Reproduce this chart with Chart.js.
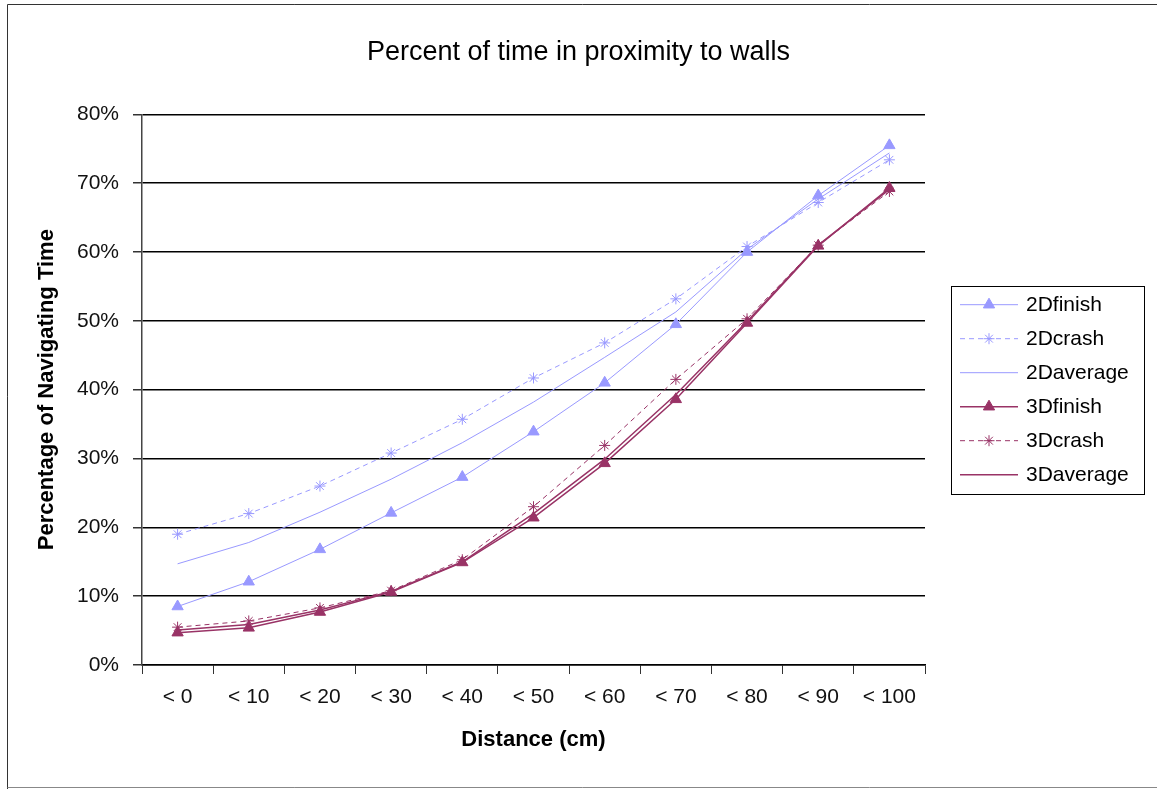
<!DOCTYPE html>
<html>
<head>
<meta charset="utf-8">
<script src="https://cdn.jsdelivr.net/npm/chart.js@4/dist/chart.umd.min.js"></script>
<style>
  html, body { margin: 0; padding: 0; background: #fff; }
  canvas { display: block; }
</style>
</head>
<body>
<canvas id="chart" width="1157" height="789"></canvas>
<script>
// categories on the x axis
const distances = ['< 0', '< 10', '< 20', '< 30', '< 40', '< 50', '< 60', '< 70', '< 80', '< 90', '< 100'];

// series values, percent of navigating time
const finish2D = [8.5, 12.1, 16.8, 22.1, 27.3, 33.9, 41.0, 49.5, 60.0, 68.2, 75.5];
const crash2D = [19.0, 22.0, 26.0, 30.8, 35.7, 41.7, 46.8, 53.2, 60.8, 67.2, 73.4];
const average2D = [14.7, 17.8, 22.2, 27.0, 32.3, 38.2, 44.7, 51.3, 60.4, 67.7, 74.4];
const finish3D = [4.7, 5.4, 7.7, 10.6, 14.9, 21.4, 29.3, 38.6, 49.7, 60.9, 69.3];
const crash3D = [5.5, 6.4, 8.3, 10.8, 15.3, 23.0, 31.9, 41.5, 50.3, 61.0, 68.8];
const average3D = [5.1, 5.9, 8.0, 10.7, 15.0, 22.0, 29.9, 39.3, 49.9, 61.0, 69.1];

const seriesNames = ['2Dfinish', '2Dcrash', '2Daverage', '3Dfinish', '3Dcrash', '3Daverage'];

const COLOR_2D = '#9999FF';
const COLOR_3D = '#993366';
const FONT = '"Liberation Sans", Arial, sans-serif';

//line + marker settings per series kind
const finishStyle = (c) => ({ borderColor: c, backgroundColor: c, pointStyle: 'triangle', pointRadius: 6.5, pointBorderWidth: 1 });
const crashStyle = (c) => ({ borderColor: c, backgroundColor: c, borderDash: [5, 4], pointStyle: 'star', pointRadius: 5.5, pointBorderWidth: 1 });
const averageStyle = (c) => ({ borderColor: c, backgroundColor: c, pointRadius: 0 });

// outer frame of the picture
const framePlugin = {
  id: 'frame',
  beforeDraw(chart) {
    const ctx = chart.ctx;
    ctx.save();
    ctx.fillStyle = '#fff';
    ctx.fillRect(0, 0, chart.width, chart.height);
    ctx.lineWidth = 1;
    ctx.strokeStyle = '#333';
    ctx.beginPath();
    ctx.moveTo(7.5, chart.height);
    ctx.lineTo(7.5, 4.5);
    ctx.lineTo(chart.width, 4.5);
    ctx.stroke();
    ctx.strokeStyle = '#888';
    ctx.beginPath();
    ctx.moveTo(7.5, chart.height - 1.5);
    ctx.lineTo(chart.width, chart.height - 1.5);
    ctx.stroke();
    ctx.restore();
  }
};

// excel-like legend: line sample with marker in the middle, boxed
const legendPlugin = {
  id: 'boxLegend',
  afterDraw(chart) {
    const ctx = chart.ctx;
    const area = chart.chartArea;
    const sets = chart.data.datasets;
    const rowH = 34;
    const boxW = 193;
    const boxH = rowH * sets.length + 4;
    const left = area.right + 26;
    const top = (area.top + area.bottom) / 2 - boxH / 2;
    ctx.save();
    ctx.fillStyle = '#fff';
    ctx.fillRect(left, top, boxW, boxH);
    ctx.strokeStyle = '#000';
    ctx.lineWidth = 1;
    ctx.strokeRect(Math.round(left) + 0.5, Math.round(top) + 0.5, boxW, boxH);
    ctx.font = '21px ' + FONT;
    ctx.textBaseline = 'middle';
    ctx.textAlign = 'left';
    sets.forEach((ds, i) => {
      const y = top + 2 + rowH * i + rowH / 2;
      ctx.strokeStyle = ds.borderColor;
      ctx.lineWidth = ds.borderWidth || 1;
      ctx.setLineDash(ds.borderDash || []);
      ctx.beginPath();
      ctx.moveTo(left + 9, y);
      ctx.lineTo(left + 67, y);
      ctx.stroke();
      ctx.setLineDash([]);
      if (ds.pointRadius > 0) {
        ctx.fillStyle = ds.backgroundColor;
        ctx.lineWidth = ds.pointBorderWidth;
        Chart.helpers.drawPoint(ctx, { pointStyle: ds.pointStyle, radius: ds.pointRadius, rotation: 0, borderWidth: ds.pointBorderWidth }, left + 38, y);
      }
      ctx.fillStyle = '#000';
      ctx.fillText(ds.label, left + 75, y + 1);
    });
    ctx.restore();
  }
};

const data = {
  labels: distances,
  datasets: [
    { label: seriesNames[0], data: finish2D, borderWidth: 1, ...finishStyle(COLOR_2D) },
    { label: seriesNames[1], data: crash2D, borderWidth: 1, ...crashStyle(COLOR_2D) },
    { label: seriesNames[2], data: average2D, borderWidth: 1, ...averageStyle(COLOR_2D) },
    { label: seriesNames[3], data: finish3D, borderWidth: 1.5, ...finishStyle(COLOR_3D) },
    { label: seriesNames[4], data: crash3D, borderWidth: 1, ...crashStyle(COLOR_3D) },
    { label: seriesNames[5], data: average3D, borderWidth: 1.5, ...averageStyle(COLOR_3D) },
  ],
};

const config = {
  type: 'line',
  data: data,
  plugins: [framePlugin, legendPlugin],
  options: {
    responsive: false,
    animation: false,
    layout: { padding: 0 },
    elements: { line: { tension: 0, fill: false } },
    plugins: {
      legend: { display: false },
      tooltip: { enabled: false },
      title: {
        display: true,
        text: 'Percent of time in proximity to walls',
        color: '#000',
        font: { family: FONT, size: 27, weight: 'normal' },
        padding: { top: 36, bottom: 46 },
      },
    },
    scales: {
      x: {
        offset: true,
        grid: { offset: true, drawOnChartArea: false, drawTicks: true, tickLength: 9, tickColor: '#333', lineWidth: 1 },
        border: { display: true, color: '#000', width: 1.5 },
        ticks: { color: '#111', padding: 11, maxRotation: 0, autoSkip: false, font: { family: FONT, size: 21 } },
        title: {
          display: true,
          text: 'Distance (cm)',
          color: '#000',
          font: { family: FONT, size: 22, weight: 'bold' },
          padding: { top: 0, bottom: 36 },
        },
        afterFit(scale) { scale.height = 124; },
      },
      y: {
        min: 0,
        max: 80,
        grid: { color: '#000', lineWidth: 1.5, drawTicks: true, tickLength: 9, tickColor: '#333' },
        border: { display: true, color: '#444', width: 1.5 },
        ticks: {
          stepSize: 10,
          color: '#111',
          padding: 14,
          font: { family: FONT, size: 21 },
          callback: (v) => v + '%',
        },
        title: {
          display: true,
          text: 'Percentage of Navigating Time',
          color: '#000',
          font: { family: FONT, size: 22, weight: 'bold' },
          padding: { top: 34, bottom: 0 },
        },
        afterFit(scale) { scale.width = 142; },
      },
      // empty right axis that keeps room for the legend box
      pad: {
        type: 'linear',
        position: 'right',
        display: true,
        ticks: { display: false },
        grid: { display: false },
        border: { display: false },
        afterFit(scale) { scale.width = 232; },
      },
    },
  },
};

new Chart(document.getElementById('chart'), config);
</script>
</body>
</html>
